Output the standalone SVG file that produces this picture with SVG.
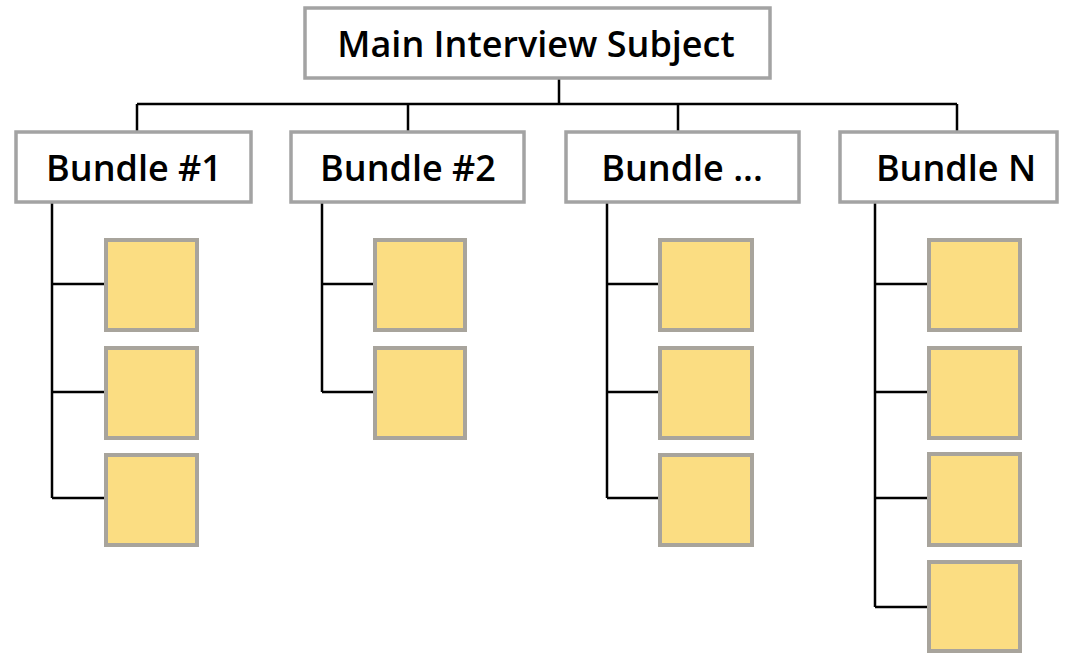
<svg xmlns="http://www.w3.org/2000/svg" width="1078" height="654" viewBox="0 0 1078 654">
<style>
.hdr{fill:#fff;stroke:#a3a3a3;stroke-width:3.5}
.leaf{fill:#fbdd82;stroke:#a8a49c;stroke-width:4}
.ln{stroke:#000;stroke-width:2.5;fill:none}
text{font-family:"Open Sans","Noto Sans",sans-serif;font-weight:600;font-size:36px;fill:#000;text-anchor:middle}
</style>
<rect width="1078" height="654" fill="#fff"/>
<g id="connectors" class="ln">
<path d="M559 79V104M137 104H957M137 104V132M408 104V132M678 104V132M957 104V132"/>
<path d="M52 202V498M52 284H106M52 392H106M52 498H106"/>
<path d="M322 202V392M322 284H375M322 392H375"/>
<path d="M607 202V498M607 284H660M607 392H660M607 498H660"/>
<path d="M875 202V607M875 284H929M875 392H929M875 498H929M875 607H929"/>
</g>
<g id="main"><rect class="hdr" x="305" y="8" width="465" height="70"/><text x="536" y="57">Main Interview Subject</text></g>
<g id="b1"><rect class="hdr" x="16" y="132" width="235" height="70"/><text x="134" y="181">Bundle #1</text></g>
<g id="b2"><rect class="hdr" x="291" y="132" width="233" height="70"/><text x="408" y="181">Bundle #2</text></g>
<g id="b3"><rect class="hdr" x="566" y="132" width="233" height="70"/><text x="682" y="181">Bundle ...</text></g>
<g id="b4"><rect class="hdr" x="840" y="132" width="217" height="70"/><text x="956" y="181">Bundle N</text></g>
<g id="b1c">
<rect class="leaf" x="106" y="240" width="91" height="90"/>
<rect class="leaf" x="106" y="348" width="91" height="90"/>
<rect class="leaf" x="106" y="455" width="91" height="90"/>
</g>
<g id="b2c">
<rect class="leaf" x="375" y="240" width="90" height="90"/>
<rect class="leaf" x="375" y="348" width="90" height="90"/>
</g>
<g id="b3c">
<rect class="leaf" x="660" y="240" width="92" height="90"/>
<rect class="leaf" x="660" y="348" width="92" height="90"/>
<rect class="leaf" x="660" y="455" width="92" height="90"/>
</g>
<g id="b4c">
<rect class="leaf" x="929" y="240" width="91" height="90"/>
<rect class="leaf" x="929" y="348" width="91" height="90"/>
<rect class="leaf" x="929" y="454" width="91" height="91"/>
<rect class="leaf" x="929" y="562" width="91" height="89"/>
</g>
</svg>
